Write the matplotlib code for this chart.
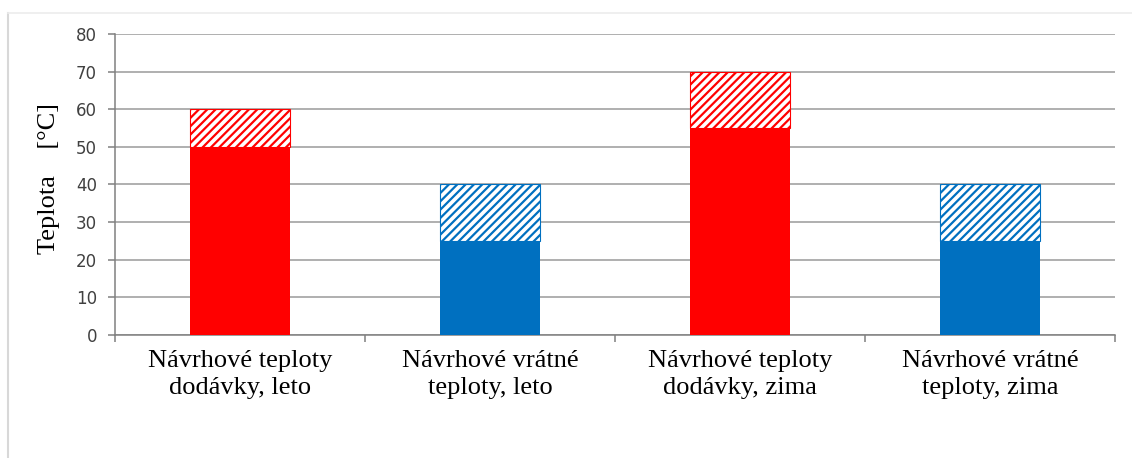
import matplotlib.pyplot as plt
import matplotlib.lines as mlines

categories = ['Návrhové teploty\ndodávky, leto', 'Návrhové vrátné\nteploty, leto',
              'Návrhové teploty\ndodávky, zima', 'Návrhové vrátné\nteploty, zima']
base = [50, 25, 55, 25]
top = [60, 40, 70, 40]
colors = ['#ff0000', '#0070c0', '#ff0000', '#0070c0']
yticks = [0, 10, 20, 30, 40, 50, 60, 70, 80]

plt.rcParams['hatch.linewidth'] = 1.6

fig = plt.figure(figsize=(11.32, 4.58), dpi=100)
ax = fig.add_axes([0.1016, 0.2686, 0.8834, 0.6572])

x = list(range(len(categories)))
ax.bar(x, base, width=0.4, color=colors, zorder=3)
upper = [t - b for t, b in zip(top, base)]
ax.bar(x, upper, bottom=base, width=0.4, facecolor='white', edgecolor=colors,
       hatch='////', linewidth=0.8, zorder=3)

ax.set_xlim(-0.5, 3.5)
ax.set_ylim(0, 80)
ax.set_yticks(yticks)
ax.set_yticklabels([str(v) for v in yticks], fontsize=12, color='#404040',
                   family='DejaVu Sans')
ax.yaxis.grid(True, color='#9a9a9a', linewidth=1.1, zorder=0)

ax.set_xticks(x)
ax.set_xticklabels(categories, fontsize=19, family='Liberation Serif',
                   linespacing=1.25)
ax.set_xticks([-0.5, 0.5, 1.5, 2.5, 3.5], minor=True)
ax.tick_params(axis='x', which='major', length=0, pad=11)
ax.tick_params(axis='x', which='minor', length=5, color='#808080', width=1.1)
ax.tick_params(axis='y', length=5, color='#808080', width=1.1, pad=8)

for s in ['top', 'right']:
    ax.spines[s].set_visible(False)
for s in ['left', 'bottom']:
    ax.spines[s].set_color('#808080')
    ax.spines[s].set_linewidth(1.1)

ax.set_ylabel('Teplota    [°C]', fontsize=19, family='Liberation Serif')
ax.yaxis.set_label_coords(-0.055, 0.52)

# light frame around the figure
fig.add_artist(mlines.Line2D([8 / 1132, 8 / 1132], [0, 1 - 13 / 458],
                             color='#d8d8d8', linewidth=1.5))
fig.add_artist(mlines.Line2D([8 / 1132, 1], [1 - 13 / 458, 1 - 13 / 458],
                             color='#ececec', linewidth=1.2))

plt.savefig('out.png', dpi=100)
